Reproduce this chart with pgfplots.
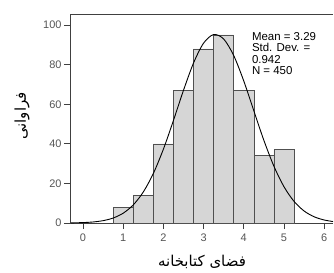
\documentclass[border=0pt]{standalone}
\usepackage{fontspec}
\setmainfont{Liberation Sans}
\newfontfamily\arabicfont[Script=Arabic]{DejaVu Sans}
\TeXXeTstate=1
\usepackage{pgfplots}
\pgfplotsset{compat=1.18}
\definecolor{barfill}{HTML}{D6D6D6}
\definecolor{baredge}{HTML}{505050}
\definecolor{axcol}{HTML}{404040}
\definecolor{tickcol}{HTML}{555555}
\begin{document}
\begin{tikzpicture}
\begin{axis}[
  at={(0,0)}, anchor=south west,
  scale only axis,
  width=263bp, height=209bp,
  xmin=-0.324, xmax=6.22,
  ymin=0, ymax=105.6,
  axis x line*=bottom, axis y line*=left,
  axis line style={axcol, line width=0.9pt},
  xtick={0,1,2,3,4,5,6},
  ytick={0,20,40,60,80,100},
  tick align=outside,
  major tick length=6bp,
  tick style={axcol, line width=0.8pt},
  ticklabel style={font=\fontsize{11}{13}\selectfont, text=tickcol},
  /pgf/number format/assume math mode=true,
  xticklabel style={yshift=-1bp},
  yticklabel style={xshift=1bp},
  clip=false,
]
\addplot[ybar, bar width=0.5, bar shift=0pt, fill=barfill, draw=baredge, line width=0.6pt]
 coordinates {(1,8) (1.5,14) (2,40) (2.5,67) (3,88) (3.5,95) (4,67) (4.5,34) (5,37)};
\addplot[black, line width=0.9pt, smooth, no markers] coordinates {
(-0.3,0.07) (0,0.21) (0.25,0.52) (0.5,1.19) (0.75,2.51) (1,4.96) (1.25,9.14)
(1.5,15.67) (1.75,25.04) (2,37.31) (2.25,51.81) (2.5,67.05) (2.75,80.86)
(3,90.89) (3.25,95.21) (3.5,92.96) (3.75,84.59) (4,71.74) (4.25,56.70)
(4.5,41.76) (4.75,28.68) (5,18.35) (5.25,10.94) (5.5,6.08) (5.75,3.15)
(6,1.52) (6.22,0.74)};
\draw[axcol, line width=0.9pt] (rel axis cs:0,1) -- (rel axis cs:1,1);
\node[anchor=north west, align=left, inner sep=0pt, font=\fontsize{11.5}{11.5}\selectfont]
  at (axis cs:4.2,96.5) {Mean = 3.29\\Std. Dev. =\\0.942\\N = 450};
\end{axis}
\node[rotate=90, font=\arabicfont\fontsize{15}{17}\selectfont] at (-48bp,107bp) {\beginR فراوانی\endR};
\node[font=\arabicfont\fontsize{15}{17}\selectfont] at (132bp,-39bp) {\beginR فضای کتابخانه\endR};
\pgfresetboundingbox
\path[use as bounding box] (-70bp,-50bp) rectangle (264bp,223bp);
\end{tikzpicture}
\end{document}
